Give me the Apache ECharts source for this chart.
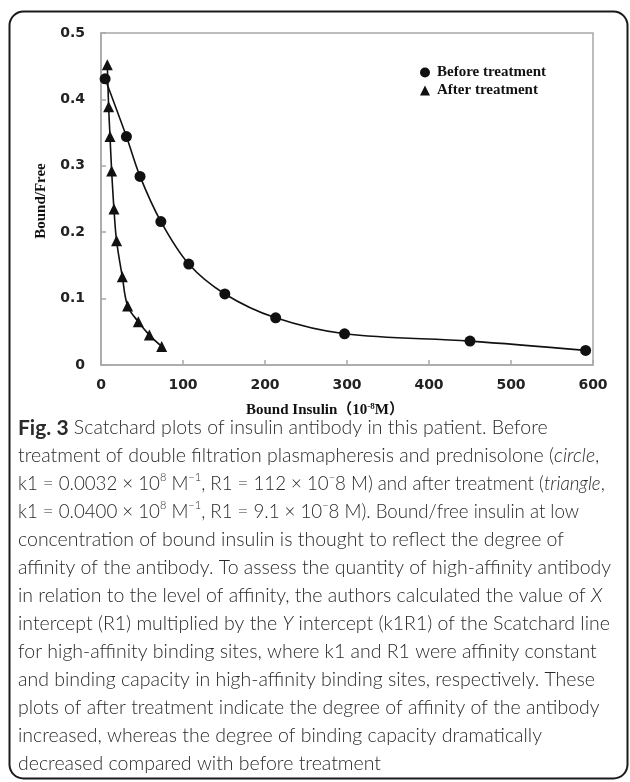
<!DOCTYPE html>
<html>
<head>
<meta charset="utf-8">
<script src="https://cdn.jsdelivr.net/npm/echarts@6/dist/echarts.min.js"></script>
<style>
html,body{margin:0;padding:0;background:#fff;}
#chart{width:630px;height:782px;}
</style>
</head>
<body>
<div id="chart"></div>
<script>
// ---- data ----
const beforeX = [5, 31, 47.6, 73, 107, 151, 213, 297, 450, 591];
const beforeY = [0.431, 0.344, 0.284, 0.216, 0.152, 0.107, 0.071, 0.047, 0.036, 0.022];
const afterX = [7.7, 9.3, 11, 13, 15.8, 19, 26, 32.5, 45.5, 59, 74];
const afterY = [0.452, 0.389, 0.344, 0.292, 0.235, 0.187, 0.133, 0.089, 0.065, 0.045, 0.028];
const seriesNames = ['Before treatment', 'After treatment'];
const xTicks = [0, 100, 200, 300, 400, 500, 600];
const yTicks = [0, 0.1, 0.2, 0.3, 0.4, 0.5];
const yTitle = 'Bound/Free';
const xTitle = 'Bound Insulin（10{sup|-8}M）';
const captionLines = [
  '{b|Fig. 3} Scatchard plots of insulin antibody in this patient. Before',
  'treatment of double filtration plasmapheresis and prednisolone ({i|circle},',
  'k1 = 0.0032 × 10{sup|8} M{sup|−1}, R1 = 112 × 10{sup|−}8 M) and after treatment ({i|triangle},',
  'k1 = 0.0400 × 10{sup|8} M{sup|−1}, R1 = 9.1 × 10{sup|−}8 M). Bound/free insulin at low',
  'concentration of bound insulin is thought to reflect the degree of',
  'affinity of the antibody. To assess the quantity of high-affinity antibody',
  'in relation to the level of affinity, the authors calculated the value of {i|X}',
  'intercept (R1) multiplied by the {i|Y} intercept (k1R1) of the Scatchard line',
  'for high-affinity binding sites, where k1 and R1 were affinity constant',
  'and binding capacity in high-affinity binding sites, respectively. These',
  'plots of after treatment indicate the degree of affinity of the antibody',
  'increased, whereas the degree of binding capacity dramatically',
  'decreased compared with before treatment'
];

const chart = echarts.init(document.getElementById('chart'), null, {renderer: 'canvas'});

const capFont = 'Lato';
const capColor = '#2a2a2a';
function capRich(size) {
  return {
    b: {fontFamily: capFont, fontWeight: 'bold', fontSize: size + 1.5, color: '#1a1a1a'},
    i: {fontFamily: capFont, fontStyle: 'italic', fontWeight: 300, fontSize: size, color: capColor},
    sup: {fontFamily: capFont, fontWeight: 300, fontSize: Math.round(size * 0.6), color: capColor, verticalAlign: 'top', lineHeight: 13}
  };
}

const graphics = [
  {type: 'rect', shape: {x: 9.5, y: 11.5, width: 618, height: 767, r: 14},
   style: {fill: 'none', stroke: '#1a1a1a', lineWidth: 2}, z: 0, silent: true},
  {type: 'text', x: 41, y: 201, rotation: Math.PI / 2,
   style: {text: yTitle, fontFamily: 'Liberation Serif', fontWeight: 'bold', fontSize: 15, fill: '#111', align: 'center', verticalAlign: 'middle'}},
  {type: 'text', x: 325, y: 410,
   style: {text: xTitle, fontFamily: 'Liberation Serif, Noto Sans CJK SC', fontWeight: 'bold', fontSize: 15, fill: '#111', align: 'center', verticalAlign: 'middle',
     rich: {sup: {fontFamily: 'Liberation Serif', fontWeight: 'bold', fontSize: 9, fill: '#111', verticalAlign: 'top', lineHeight: 10}}}}
];
captionLines.forEach((line, i) => {
  const size = line.indexOf('k1 =') === 0 ? 18.7 : 19.5;
  graphics.push({
    type: 'text', x: 18, y: 428 + 28 * i,
    style: {text: line, fontFamily: capFont, fontWeight: 300, fontSize: size, fill: capColor,
      align: 'left', verticalAlign: 'middle', lineHeight: 24, rich: capRich(size)}
  });
});

const axisLabelStyle = {fontFamily: 'DejaVu Sans', fontWeight: 'bold', fontSize: 14, color: '#222'};

chart.setOption({
  animation: false,
  backgroundColor: '#fff',
  grid: {left: 101, right: 37, top: 33, bottom: 417, show: true, borderColor: '#a8a8a8', borderWidth: 1.5, containLabel: false},
  legend: {
    orient: 'vertical', left: 415, top: 60, itemWidth: 10, itemHeight: 10, itemGap: 3,
    data: [{name: seriesNames[0], icon: 'circle'}, {name: seriesNames[1], icon: 'triangle'}],
    textStyle: {fontFamily: 'Liberation Serif', fontWeight: 'bold', fontSize: 15, color: '#111', padding: [0, 0, 0, 2]},
    selectedMode: false
  },
  xAxis: {
    type: 'value', min: xTicks[0], max: xTicks[xTicks.length - 1], interval: 100,
    axisLine: {show: true, lineStyle: {color: '#a8a8a8', width: 1.5}},
    axisTick: {show: true, inside: true, length: 5, lineStyle: {color: '#a8a8a8', width: 1.5}},
    splitLine: {show: false},
    axisLabel: Object.assign({margin: 13}, axisLabelStyle)
  },
  yAxis: {
    type: 'value', min: yTicks[0], max: yTicks[yTicks.length - 1], interval: 0.1,
    axisLine: {show: true, lineStyle: {color: '#a8a8a8', width: 1.5}},
    axisTick: {show: true, inside: true, length: 5, lineStyle: {color: '#a8a8a8', width: 1.5}},
    splitLine: {show: false},
    axisLabel: Object.assign({margin: 16, formatter: v => (v === 0 ? '0' : v.toFixed(1))}, axisLabelStyle)
  },
  series: [
    {name: seriesNames[0], type: 'line', smooth: 0.35, symbol: 'circle', symbolSize: 11,
     data: beforeX.map((x, i) => [x, beforeY[i]]),
     lineStyle: {color: '#111', width: 1.6}, itemStyle: {color: '#111'}, z: 3},
    {name: seriesNames[1], type: 'line', smooth: 0.35, symbol: 'triangle', symbolSize: [11, 11],
     data: afterX.map((x, i) => [x, afterY[i]]),
     lineStyle: {color: '#111', width: 1.6}, itemStyle: {color: '#111'}, z: 3}
  ],
  graphic: graphics
});
</script>
</body>
</html>
